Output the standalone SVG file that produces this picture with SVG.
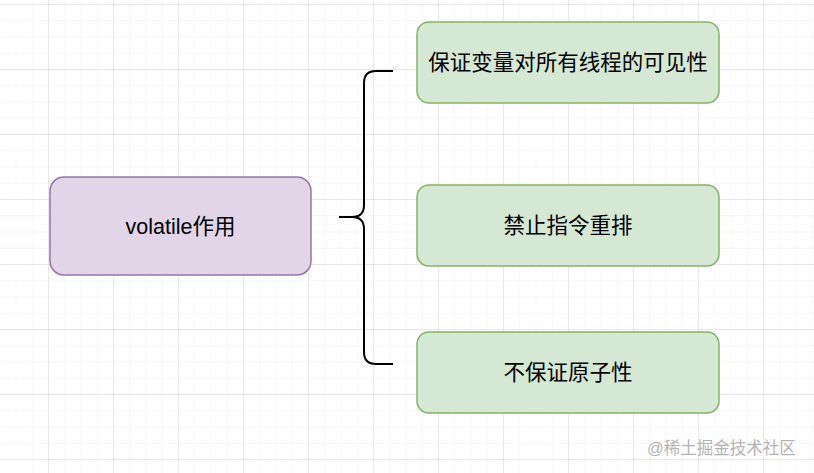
<svg xmlns="http://www.w3.org/2000/svg" width="814" height="473" viewBox="0 0 814 473">
<defs>
<pattern id="minor" x="-0.75" y="4" width="16.25" height="16.25" patternUnits="userSpaceOnUse">
<path d="M16.25 0H0V16.25" fill="none" stroke="#efefef" stroke-width="1"/>
</pattern>
<pattern id="major" x="48" y="4" width="65" height="65" patternUnits="userSpaceOnUse">
<path d="M65 0H0V65" fill="none" stroke="#dadada" stroke-width="1"/>
</pattern>
</defs>
<style>
.t{font-family:"Liberation Sans","Noto Sans CJK SC",sans-serif;font-size:21.5px;fill:#000;text-anchor:middle}
.g{fill:#d5e8d4;stroke:#82b366;stroke-width:1.5}
.p{fill:#e1d5e7;stroke:#9673a6;stroke-width:1.5}
</style>
<rect width="814" height="473" fill="#fff"/>
<rect width="814" height="473" fill="url(#minor)"/>
<rect width="814" height="473" fill="url(#major)"/>
<g id="connectors">
<path d="M393,71 H376 Q364,71 364,83 V205 Q364,217 352,217 H339 M352,217 Q364,217 364,229 V352 Q364,364 376,364 H393" fill="none" stroke="#000" stroke-width="2"/>
</g>
<g id="node-main">
<rect class="p" x="50" y="177" width="261" height="98" rx="14"/>
<text class="t" x="180.5" y="233.5">volatile作用</text>
</g>
<g id="node-1">
<rect class="g" x="417" y="22" width="302" height="81" rx="12"/>
<text class="t" x="568" y="70">保证变量对所有线程的可见性</text>
</g>
<g id="node-2">
<rect class="g" x="417" y="185" width="302" height="81" rx="12"/>
<text class="t" x="568" y="233">禁止指令重排</text>
</g>
<g id="node-3">
<rect class="g" x="417" y="332" width="302" height="81" rx="12"/>
<text class="t" x="568" y="380">不保证原子性</text>
</g>
<text x="647" y="454" font-family="'Liberation Sans','Noto Sans CJK SC',sans-serif" font-size="16.5" fill="#b4b4b4">@稀土掘金技术社区</text>
</svg>
